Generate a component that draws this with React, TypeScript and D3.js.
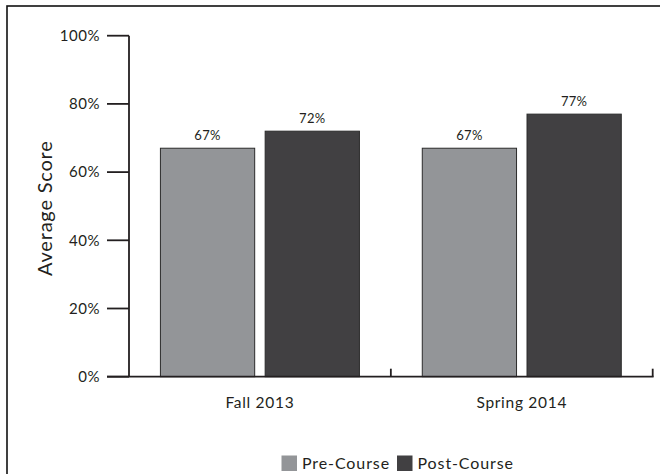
import React from "react";
import * as d3 from "d3";

const categories = ["Fall 2013", "Spring 2014"];
const seriesNames = ["Pre-Course", "Post-Course"];
const preCourse = [67, 67];
const postCourse = [72, 77];
const yTicks = [0, 20, 40, 60, 80, 100];

const W = 660;
const H = 474;
const FONT = "'Gill Sans', 'Gill Sans MT', Lato, 'Open Sans', sans-serif";
const colors = ["#939598", "#414042"];
const ink = "#231f20";

export default function App() {
  const left = 129;
  const right = 652.7;
  const top = 35.7;
  const bottom = 376.7;

  const y = d3.scaleLinear().domain([0, 100]).range([bottom, top]);
  const x0 = d3
    .scaleBand<string>()
    .domain(categories)
    .range([left, right])
    .paddingInner(0.24)
    .paddingOuter(0.12);
  const x1 = d3
    .scaleBand<string>()
    .domain(seriesNames)
    .range([0, x0.bandwidth()])
    .paddingInner(0.1);
  const series = [preCourse, postCourse];

  const boundaries = categories.map((_, i) => left + (i + 1) * ((right - left) / categories.length));

  return (
    <svg
      width={W}
      height={H}
      style={{ position: "absolute", left: 0, top: 0, background: "#fff" }}
      fontFamily={FONT}
    >
      <rect x={7} y={6} width={W + 20} height={H + 20} fill="#fff" stroke="#111" strokeWidth={1.6} />

      {/* bars */}
      {categories.map((c, ci) =>
        seriesNames.map((s, si) => {
          const v = series[si][ci];
          const bx = (x0(c) as number) + (x1(s) as number);
          return (
            <g key={c + s}>
              <rect
                x={bx}
                y={y(v)}
                width={x1.bandwidth()}
                height={bottom - y(v)}
                fill={colors[si]}
                stroke="#2b2b2b"
                strokeWidth={1}
              />
              <text
                x={bx + x1.bandwidth() / 2}
                y={y(v) - 8.5}
                textAnchor="middle"
                fontSize={13}
                letterSpacing={0.3}
                fill={ink}
              >
                {v}%
              </text>
            </g>
          );
        })
      )}

      {/* y axis */}
      <line x1={left} x2={left} y1={top} y2={bottom} stroke={ink} strokeWidth={1.8} />
      {yTicks.map((t) => (
        <g key={t}>
          <line x1={left - 22} x2={left} y1={y(t)} y2={y(t)} stroke={ink} strokeWidth={1.8} />
          <text
            x={left - 29}
            y={y(t)}
            dy="0.35em"
            textAnchor="end"
            fontSize={15}
            letterSpacing={0.5}
            fill={ink}
          >
            {t}%
          </text>
        </g>
      ))}

      {/* x axis */}
      <line x1={left - 22} x2={right + 0.9} y1={bottom} y2={bottom} stroke={ink} strokeWidth={1.8} />
      {boundaries.map((b, i) => (
        <line key={i} x1={b} x2={b} y1={bottom} y2={bottom - 8} stroke={ink} strokeWidth={1.8} />
      ))}
      {categories.map((c) => (
        <text
          key={c}
          x={(x0(c) as number) + x0.bandwidth() / 2}
          y={407.5}
          textAnchor="middle"
          fontSize={15.5}
          letterSpacing={0.7}
          fill={ink}
        >
          {c}
        </text>
      ))}

      {/* y label */}
      <text
        transform={`translate(52, ${(top + bottom) / 2 + 2}) rotate(-90)`}
        textAnchor="middle"
        fontSize={20}
        letterSpacing={0.8}
        fill={ink}
      >
        Average Score
      </text>

      {/* legend */}
      {(() => {
        const lx = [281.5, 397];
        return seriesNames.map((s, i) => (
          <g key={s}>
            <rect x={lx[i]} y={455.5} width={15.5} height={15.5} fill={colors[i]} />
            <text
              x={lx[i] + 20.5}
              y={463.5}
              dy="0.35em"
              fontSize={16}
              letterSpacing={0.9}
              fill={ink}
            >
              {s}
            </text>
          </g>
        ));
      })()}
    </svg>
  );
}
